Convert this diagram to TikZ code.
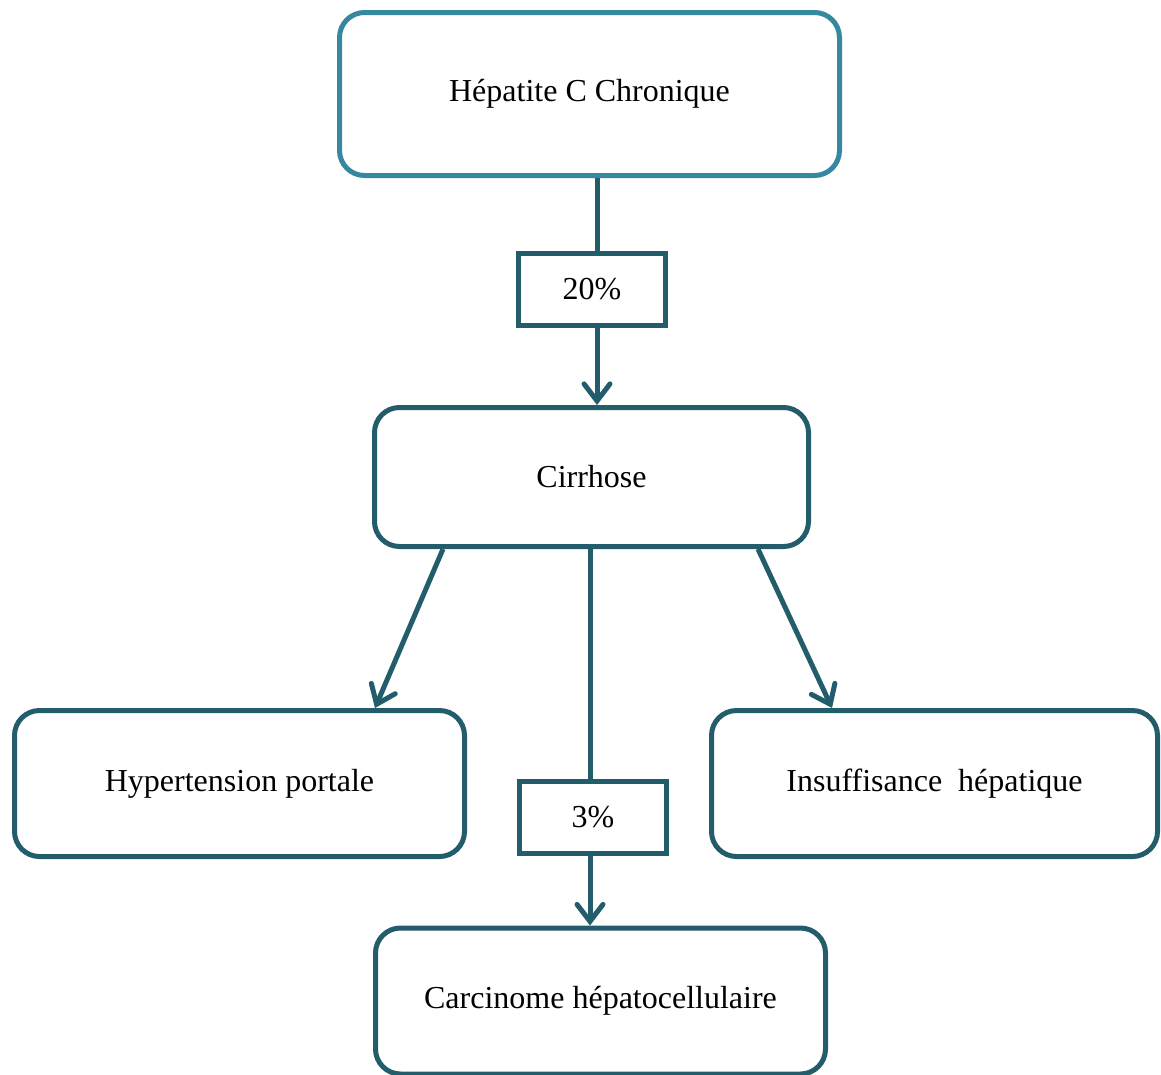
\documentclass[tikz,border=0pt]{standalone}
\usepackage{fontspec}
\setmainfont{Liberation Serif}
\usetikzlibrary{arrows.meta}
\definecolor{tealdark}{HTML}{235C6A}
\definecolor{teallight}{HTML}{3588A0}
\tikzset{
  etape/.style={draw=tealdark, line width=5pt, rounded corners=25pt, fill=white,
    minimum width=450pt, minimum height=146pt, font=\fontsize{32}{38}\selectfont},
  taux/.style={draw=tealdark, line width=5pt, fill=white,
    minimum width=147pt, minimum height=72pt, font=\fontsize{32}{38}\selectfont},
  lien/.style={draw=tealdark, line width=5pt},
  fleche/.style={lien, -{Straight Barb[length=17pt,width=26pt,line cap=round]}}
}
\begin{document}
\begin{tikzpicture}[x=1pt,y=-1pt]
\useasboundingbox (0,0) rectangle (1161,1074);

\node[etape, draw=teallight, minimum width=500pt, minimum height=163pt] (hcc) at (589.5,94) {Hépatite C Chronique};
\node[taux] (t20) at (592,289) {20\%};
\node[etape, minimum width=434pt, minimum height=139pt] (cir) at (591.5,477) {Cirrhose};
\node[etape] (hyp) at (239.5,783.5) {Hypertension portale};
\node[etape, minimum width=446pt] (ins) at (934.5,783.5) {Insuffisance\ \ hépatique};
\node[taux] (t3) at (593,817.5) {3\%};
\node[etape] (car) at (600.5,1001) {Carcinome hépatocellulaire};

% points de depart et d'arrivee
\coordinate (a1) at (hcc.south -| 597,0);
\coordinate (a2) at (t20.north -| 597,0);
\coordinate (a3) at (t20.south -| 597,0);
\coordinate (a4) at (cir.north -| 597,0);
\coordinate (g1) at (cir.south -| 443,0);
\coordinate (g2) at (hyp.north -| 375,0);
\coordinate (d1) at (cir.south -| 758,0);
\coordinate (d2) at (ins.north -| 832,0);
\coordinate (m1) at (cir.south -| 590,0);
\coordinate (m2) at (t3.north -| 590,0);
\coordinate (m3) at (t3.south -| 590,0);
\coordinate (m4) at (car.north -| 590,0);

\draw[lien] (a1) -- (a2);
\draw[fleche] (a3) -- (a4);
\draw[fleche] (g1) -- (g2);
\draw[fleche] (d1) -- (d2);
\draw[lien] (m1) -- (m2);
\draw[fleche] (m3) -- (m4);
\end{tikzpicture}
\end{document}
